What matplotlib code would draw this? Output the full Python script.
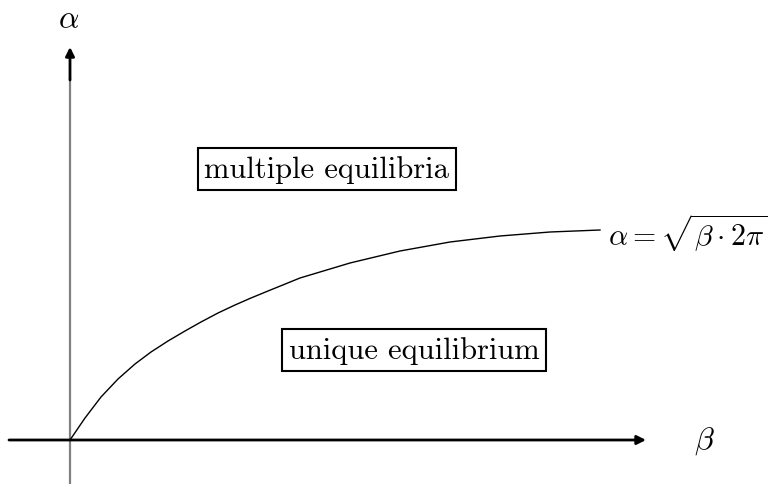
import numpy as np
import matplotlib.pyplot as plt

plt.rcParams['mathtext.fontset'] = 'cm'

# boundary curve alpha(beta)
beta = [0, 15, 31, 48, 65, 81, 98, 115, 131, 148, 165, 181, 198, 230, 280, 330, 380, 430, 480, 530]
alpha = [0, 22, 43, 61, 76, 88, 99, 109, 118, 127, 135, 142, 149, 162, 177, 189, 198, 204, 208, 210]

region_labels = ["multiple equilibria", "unique equilibrium"]
region_pos = [(257, 271), (344, 90)]

fig = plt.figure(figsize=(7.72, 4.85), dpi=100)
ax = fig.add_axes([0, 0, 1, 1])
ax.set_xlim(-70, 702)
ax.set_ylim(-44, 441)
ax.axis('off')

# axes
ax.plot([0, 0], [-44, 361], color='gray', lw=1.6)
ax.annotate('', xy=(0, 393), xytext=(0, 360),
            arrowprops=dict(arrowstyle='-|>', color='black', lw=2, mutation_scale=13,
                            shrinkA=0, shrinkB=0))
ax.annotate('', xy=(576, 0), xytext=(-61, 0),
            arrowprops=dict(arrowstyle='-|>', color='black', lw=2, mutation_scale=13,
                            shrinkA=0, shrinkB=0))

ax.plot(beta, alpha, color='black', lw=1)

ax.text(-1, 421, r'$\alpha$', fontsize=23, ha='center', va='center')
ax.text(634, 0, r'$\beta$', fontsize=23, ha='center', va='center')
ax.text(538, 208, r'$\alpha = \sqrt{\beta \cdot 2\pi}$', fontsize=21.5, ha='left', va='center')

for lab, (x, y) in zip(region_labels, region_pos):
    ax.text(x, y, lab, fontsize=22, family='cmr10', ha='center', va='center',
            bbox=dict(boxstyle='square,pad=0.22', fc='white', ec='black', lw=1.5))

fig.savefig('out.png', dpi=100)
